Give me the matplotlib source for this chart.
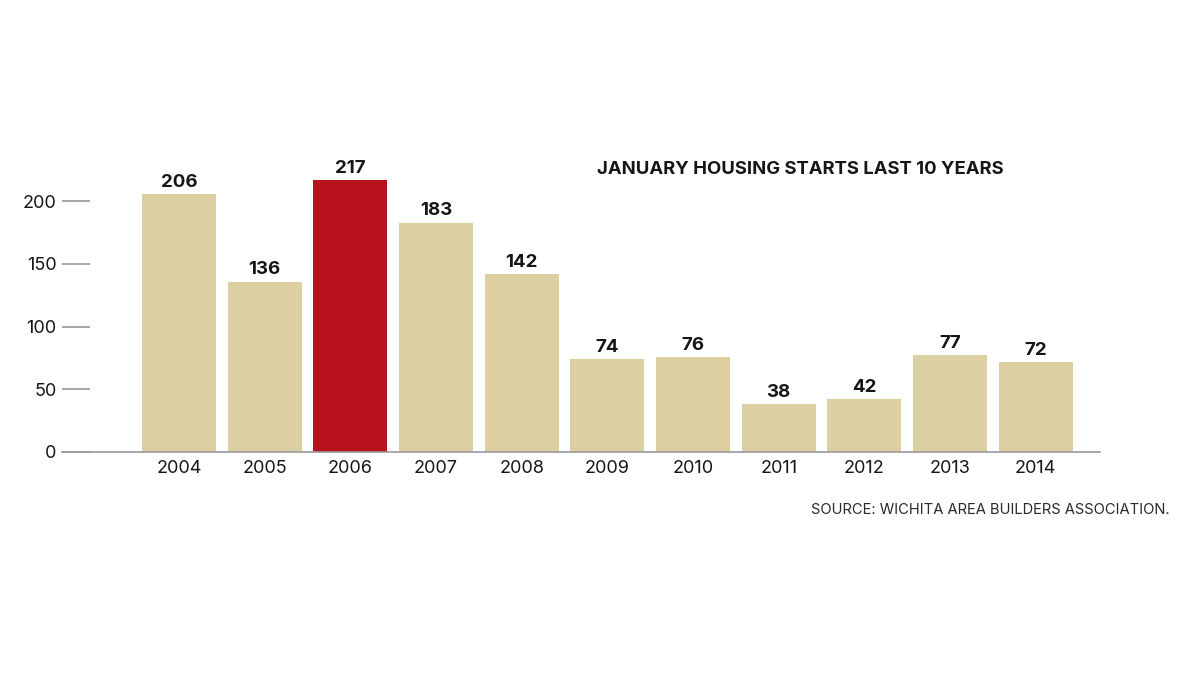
import matplotlib
matplotlib.use("Agg")
import matplotlib.pyplot as plt

years = ["2004", "2005", "2006", "2007", "2008", "2009", "2010", "2011", "2012", "2013", "2014"]
starts = [206, 136, 217, 183, 142, 74, 76, 38, 42, 77, 72]
highlight = "2006"
y_ticks = [0, 50, 100, 150, 200]

tan = "#dcd0a3"
red = "#b8121f"
ink = "#161616"
grey = "#9a9a9a"

plt.rcParams['font.family'] = ['Inter', 'DejaVu Sans']

fig = plt.figure(figsize=(12, 6.75), dpi=100)
ax = fig.add_axes([0.0517, 0.3304, 0.865, 0.4271])

x = list(range(len(years)))
colors = [red if y == highlight else tan for y in years]
ax.bar(x, starts, width=0.864, color=colors, zorder=2)

for xi, v in zip(x, starts):
    ax.text(xi, v + 2.5, str(v), ha="center", va="bottom",
            fontsize=13.5, fontweight="bold", color=ink)

ax.set_xlim(-1.365, 10.75)
ax.set_ylim(0, 230)
ax.set_xticks(x)
ax.set_xticklabels(years, fontsize=13, color=ink)
ax.set_yticks(y_ticks)
ax.set_yticklabels([str(t) for t in y_ticks], fontsize=13, color=ink)

ax.tick_params(axis="x", length=0, pad=6)
ax.tick_params(axis="y", direction="in", length=20, width=1.2, color=grey, pad=4)

for s in ["top", "right", "left"]:
    ax.spines[s].set_visible(False)
ax.spines["bottom"].set_color(grey)
ax.spines["bottom"].set_linewidth(1.2)

fig.text(800 / 1200, 1 - 170 / 675, "JANUARY HOUSING STARTS LAST 10 YEARS",
         ha="center", va="center", fontsize=13.3, fontweight="bold", color=ink)
fig.text(1170 / 1200, 1 - 510 / 675, "SOURCE: WICHITA AREA BUILDERS ASSOCIATION.",
         ha="right", va="center", fontsize=10.6, color="#2a2a2a")

fig.savefig("out.png", dpi=100)
